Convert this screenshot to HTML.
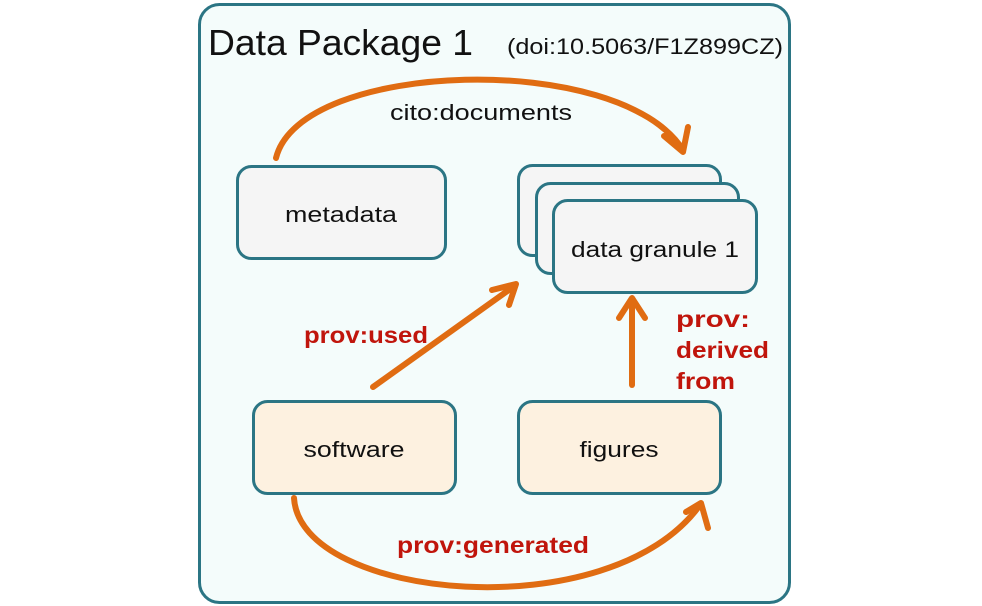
<!DOCTYPE html>
<html><head><meta charset="utf-8"><style>
html,body{margin:0;padding:0;background:#fff;}
svg{display:block;}
text{font-family:"Liberation Sans",sans-serif;}
</style></head><body>
<svg width="982" height="606" viewBox="0 0 982 606" xmlns="http://www.w3.org/2000/svg">
<rect x="199.5" y="4.5" width="590" height="598" rx="20" fill="#f4fcfb" stroke="#2b7584" stroke-width="3"/>
<text x="208" y="55" font-size="36" fill="#111" textLength="265" lengthAdjust="spacingAndGlyphs">Data Package 1</text>
<text x="507" y="54" font-size="22" fill="#111" textLength="276" lengthAdjust="spacingAndGlyphs">(doi:10.5063/F1Z899CZ)</text>
<g fill="none" stroke="#e06c12" stroke-width="6" stroke-linecap="round" stroke-linejoin="round">
<path d="M276 158 C 300 60, 620 50, 683 150"/>
<path d="M664 136 L683 152 L688 127"/>
<path d="M373 387 L513 287"/>
<path d="M492 290 L516 284 L509 305"/>
<path d="M632 385 L632 300"/>
<path d="M619 318 L632 298 L645 318"/>
<path d="M294 498 C 300 600, 610 630, 700 505"/>
<path d="M686 512 L701 503 L708 528"/>
</g>
<text x="481" y="120" font-size="22" fill="#111" text-anchor="middle" textLength="182" lengthAdjust="spacingAndGlyphs">cito:documents</text>
<g stroke="#2b7584" stroke-width="3" fill="#f5f5f5">
<rect x="237.5" y="166.5" width="208" height="92" rx="14"/>
<rect x="518.5" y="165.5" width="202" height="90" rx="14"/>
<rect x="536.5" y="183.5" width="202" height="90" rx="14"/>
<rect x="553.5" y="200.5" width="203" height="92" rx="14"/>
<rect x="253.5" y="401.5" width="202" height="92" rx="14" fill="#fdf1e0"/>
<rect x="518.5" y="401.5" width="202" height="92" rx="14" fill="#fdf1e0"/>
</g>
<g font-size="22" fill="#111" text-anchor="middle">
<text x="341" y="222" textLength="112" lengthAdjust="spacingAndGlyphs">metadata</text>
<text x="655" y="257" textLength="168" lengthAdjust="spacingAndGlyphs">data granule 1</text>
<text x="354" y="457" textLength="101" lengthAdjust="spacingAndGlyphs">software</text>
<text x="619" y="457" textLength="79" lengthAdjust="spacingAndGlyphs">figures</text>
</g>
<g font-size="23" font-weight="bold" fill="#c0150c">
<text x="304" y="343" textLength="124" lengthAdjust="spacingAndGlyphs">prov:used</text>
<text x="676" y="327" textLength="74" lengthAdjust="spacingAndGlyphs">prov:</text>
<text x="676" y="358" textLength="93" lengthAdjust="spacingAndGlyphs">derived</text>
<text x="676" y="389" textLength="59" lengthAdjust="spacingAndGlyphs">from</text>
<text x="397" y="553" textLength="192" lengthAdjust="spacingAndGlyphs">prov:generated</text>
</g>
</svg>
</body></html>
